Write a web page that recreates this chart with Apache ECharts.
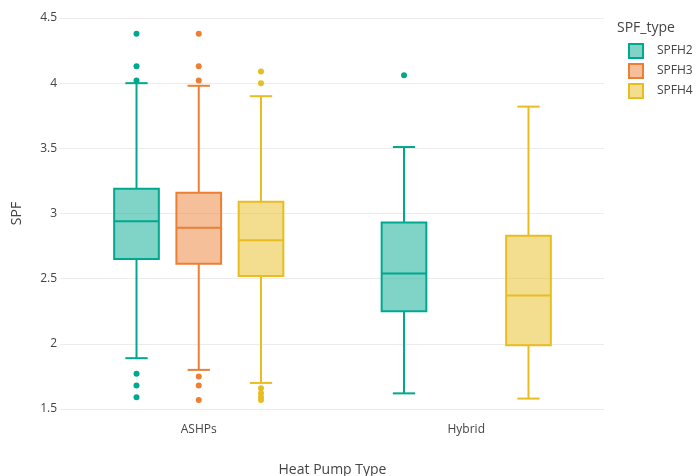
<!DOCTYPE html>
<html>
<head>
<meta charset="utf-8">
<script src="https://cdn.jsdelivr.net/npm/echarts@6/dist/echarts.min.js"></script>
<style>html,body{margin:0;padding:0;background:#fff;}#c{width:698px;height:476px;}</style>
</head>
<body>
<div id="c"></div>
<script>
// ---- data ----
const categories = ['ASHPs', 'Hybrid'];
const types = ['SPFH2', 'SPFH3', 'SPFH4'];
// [categoryIndex, lowerWhisker, Q1, median, Q3, upperWhisker]
const spfh2Box = [[0, 1.89, 2.65, 2.94, 3.19, 4.00], [1, 1.62, 2.25, 2.54, 2.93, 3.51]];
const spfh3Box = [[0, 1.80, 2.615, 2.89, 3.16, 3.98]];
const spfh4Box = [[0, 1.70, 2.52, 2.795, 3.09, 3.90], [1, 1.58, 1.99, 2.37, 2.83, 3.82]];
// [categoryIndex, value]
const spfh2Out = [[0, 4.38], [0, 4.13], [0, 4.02], [0, 1.77], [0, 1.68], [0, 1.59], [1, 4.06]];
const spfh3Out = [[0, 4.38], [0, 4.13], [0, 4.02], [0, 1.75], [0, 1.68], [0, 1.57]];
const spfh4Out = [[0, 4.09], [0, 4.00], [0, 1.66], [0, 1.62], [0, 1.59], [0, 1.57]];
const yTicks = [1.5, 2, 2.5, 3, 3.5, 4, 4.5];

const lineColors = ['#00A88F', '#EC7F34', '#E8BD22'];
const fillColors = ['rgba(0,168,143,0.5)', 'rgba(236,127,52,0.5)', 'rgba(232,189,34,0.5)'];
const boxes = [spfh2Box, spfh3Box, spfh4Box];
const outs = [spfh2Out, spfh3Out, spfh4Out];
const FONT = '"Open Sans", Verdana, Arial, sans-serif';
const OFFSET = 0.2327, BOXW = 0.167;

function boxRenderer(k) {
  return function (params, api) {
    const cat = api.value(0);
    const band = api.size([1, 0])[0];
    const cx = api.coord([cat, api.value(3)])[0] + (k - 1) * OFFSET * band;
    const y = i => api.coord([cat, api.value(i)])[1];
    const yLo = y(1), yQ1 = y(2), yMed = y(3), yQ3 = y(4), yHi = y(5);
    const w = BOXW * band, hw = w / 2, cap = w / 4;
    const ls = { stroke: lineColors[k], lineWidth: 2 };
    return {
      type: 'group',
      children: [
        { type: 'line', shape: { x1: cx, y1: yHi, x2: cx, y2: yQ3 }, style: ls },
        { type: 'line', shape: { x1: cx, y1: yQ1, x2: cx, y2: yLo }, style: ls },
        { type: 'line', shape: { x1: cx - cap, y1: yHi, x2: cx + cap, y2: yHi }, style: ls },
        { type: 'line', shape: { x1: cx - cap, y1: yLo, x2: cx + cap, y2: yLo }, style: ls },
        { type: 'rect', shape: { x: cx - hw, y: yQ3, width: w, height: yQ1 - yQ3 },
          style: { fill: fillColors[k], stroke: lineColors[k], lineWidth: 2 } },
        { type: 'line', shape: { x1: cx - hw, y1: yMed, x2: cx + hw, y2: yMed }, style: ls }
      ]
    };
  };
}
function outRenderer(k) {
  return function (params, api) {
    const cat = api.value(0);
    const band = api.size([1, 0])[0];
    const p = api.coord([cat, api.value(1)]);
    return { type: 'circle', shape: { cx: p[0] + (k - 1) * OFFSET * band, cy: p[1], r: 3 },
             style: { fill: lineColors[k] } };
  };
}

const series = [];
types.forEach((t, k) => {
  series.push({ type: 'custom', name: t, xAxisIndex: 1, yAxisIndex: 1, data: boxes[k],
    encode: { x: 0, y: [1, 2, 3, 4, 5] }, renderItem: boxRenderer(k),
    itemStyle: { color: fillColors[k], borderColor: lineColors[k] }, silent: true });
  series.push({ type: 'custom', name: t, xAxisIndex: 1, yAxisIndex: 1, data: outs[k],
    encode: { x: 0, y: 1 }, renderItem: outRenderer(k),
    itemStyle: { color: fillColors[k], borderColor: lineColors[k] }, silent: true });
});

const chart = echarts.init(document.getElementById('c'), null, { renderer: 'canvas' });
chart.setOption({
  animation: false,
  backgroundColor: '#fff',
  textStyle: { fontFamily: FONT },
  grid: [
    { left: 60, right: 94, top: 18, bottom: 67, outerBoundsMode: 'none', containLabel: false },
    { left: 65, right: 98, top: 18, bottom: 67, outerBoundsMode: 'none', containLabel: false }
  ],
  xAxis: [
    { type: 'category', gridIndex: 0, data: categories, show: false },
    { type: 'category', gridIndex: 1, data: categories,
      axisLine: { show: false }, axisTick: { show: false }, splitLine: { show: false },
      axisLabel: { color: '#444', fontSize: 12, margin: 15, fontFamily: FONT },
      name: 'Heat Pump Type', nameLocation: 'middle', nameGap: 54,
      nameTextStyle: { color: '#444', fontSize: 14, fontFamily: FONT } }
  ],
  yAxis: [
    { type: 'value', gridIndex: 0, min: yTicks[0], max: yTicks[yTicks.length - 1], interval: 0.5,
      axisLine: { show: false }, axisTick: { show: false },
      splitLine: { lineStyle: { color: '#ececec', width: 1 } },
      axisLabel: { color: '#444', fontSize: 12, margin: 3, fontFamily: FONT },
      name: 'SPF', nameLocation: 'middle', nameGap: 36,
      nameTextStyle: { color: '#444', fontSize: 14, fontFamily: FONT } },
    { type: 'value', gridIndex: 1, min: yTicks[0], max: yTicks[yTicks.length - 1], interval: 0.5, show: false }
  ],
  legend: {
    orient: 'vertical', left: 628, top: 43, padding: 0, itemWidth: 14, itemHeight: 14, itemGap: 4,
    icon: 'rect',
    textStyle: { color: '#444', fontSize: 12, fontFamily: FONT, padding: [0, 0, 0, 9] },
    data: types.map((t, k) => ({ name: t,
      itemStyle: { color: fillColors[k], borderColor: lineColors[k], borderWidth: 2 } }))
  },
  graphic: [
    { type: 'text', left: 617, top: 21,
      style: { text: 'SPF_type', fill: '#444', fontSize: 14, fontFamily: FONT } }
  ],
  series: series
});
</script>
</body>
</html>
